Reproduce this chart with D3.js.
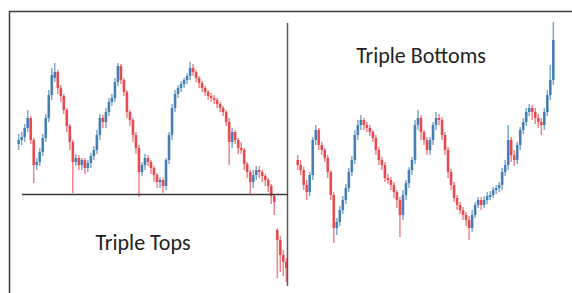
<!DOCTYPE html>
<html>
<head>
<meta charset="utf-8">
<script src="https://cdn.jsdelivr.net/npm/d3@7"></script>
<style>
  body { margin: 0; background: #fff; }
  svg { display: block; }
</style>
</head>
<body>
<div id="chart"></div>
<script>
// price levels (arbitrary units, higher = up)
var topsOpen = [156,160,163,172,182,160,135,138,148,162,182,205,222,228,212,204,190,174,158,138,142,135,140,132,137,144,150,165,182,178,188,198,202,218,234,220,208,188,180,165,152,128,135,142,138,132,125,118,120,114,140,165,192,206,212,216,220,224,232,228,222,217,212,208,204,202,200,196,192,188,178,158,168,160,152,150,136,128,118,125,130,128,124,120,114,104,70,60,45,38];
var topsClose = [160,163,172,182,160,135,138,148,162,182,205,225,228,212,204,190,174,158,138,142,135,140,132,137,144,150,165,182,178,188,198,202,218,234,220,208,188,180,165,152,128,135,142,138,132,125,118,120,114,140,165,192,206,212,216,220,224,232,228,222,217,212,208,204,202,200,196,192,188,178,158,168,160,152,150,136,128,118,125,130,128,124,120,114,104,98,60,45,38,32];
var topsHigh = [166,168,176,190,184,162,142,152,166,186,210,232,237,230,215,206,192,176,160,146,145,142,142,140,147,154,170,186,185,192,202,206,222,237,236,222,210,190,182,168,155,138,146,145,140,134,127,123,122,142,168,196,210,215,219,222,227,238,236,230,224,219,214,210,207,205,202,198,194,190,182,172,170,162,158,152,138,130,130,134,134,130,126,122,116,106,72,64,50,42];
var topsLow = [150,155,158,168,156,117,130,134,144,158,178,200,218,206,198,186,168,150,107,134,130,130,126,128,132,140,146,160,172,172,184,194,198,214,216,204,182,174,158,146,103,124,130,134,126,118,112,112,107,110,136,160,188,202,208,212,216,220,224,218,212,208,204,200,198,196,192,188,184,174,135,152,156,146,146,130,122,105,112,120,122,118,114,108,96,85,22,28,24,18];

var botOpen = [140,135,130,115,108,125,160,170,155,150,142,128,105,72,78,90,100,112,128,140,165,175,180,175,172,168,162,150,140,135,122,120,115,108,100,85,105,117,130,140,175,182,168,160,150,160,175,182,180,165,150,128,115,102,95,90,85,80,72,85,95,100,95,100,104,105,110,112,115,128,135,160,145,140,155,170,178,188,192,188,182,178,175,188,205,220];
var botClose = [135,130,115,108,125,160,170,155,150,142,128,105,72,78,90,100,112,128,140,165,175,180,175,172,168,162,150,140,135,122,120,115,108,100,85,105,117,130,140,175,182,168,160,150,160,175,182,180,165,150,128,115,102,95,90,85,80,72,85,95,100,95,100,104,105,110,112,115,128,135,160,145,140,155,170,178,188,192,188,182,178,175,188,205,220,260];
var botHigh = [145,140,133,120,128,163,175,172,158,152,145,130,108,82,94,104,116,132,144,170,180,185,182,178,175,170,165,153,143,138,126,123,118,110,103,110,120,133,143,180,190,185,170,163,163,178,188,186,183,168,153,131,118,105,98,93,88,84,90,98,103,103,104,108,109,113,115,118,132,140,175,163,150,158,173,182,192,196,195,192,186,182,192,210,235,278];
var botLow = [130,125,110,100,104,120,155,150,145,138,122,100,57,65,74,86,96,108,124,136,160,170,170,168,164,158,145,135,130,118,116,110,102,92,63,80,100,112,125,136,170,160,155,145,145,155,170,175,160,145,122,110,98,90,86,80,74,60,68,82,92,90,92,96,100,102,106,108,110,124,130,138,134,136,150,166,174,184,180,176,172,165,170,184,200,215];

var labels = ["Triple Tops", "Triple Bottoms"];

var width = 572, height = 293;
var red = "#e5333b", blue = "#2d6fab";

var svg = d3.select("#chart").append("svg")
    .attr("width", width)
    .attr("height", height);

var y = d3.scaleLinear().domain([0, 300]).range([300, 0]);

function makeBars(open, close, high, low) {
  return open.map(function(o, i) {
    return {i: i, open: o, close: close[i], high: high[i], low: low[i]};
  });
}

function drawPanel(data, x0, x1) {
  var x = d3.scaleBand()
      .domain(data.map(function(d) { return d.i; }))
      .range([x0, x1])
      .padding(0.12);

  var g = svg.append("g");
  var bar = g.selectAll("g.bar")
    .data(data)
    .enter().append("g")
      .attr("class", "bar");

  bar.append("line")
      .attr("x1", function(d) { return x(d.i) + x.bandwidth() / 2; })
      .attr("x2", function(d) { return x(d.i) + x.bandwidth() / 2; })
      .attr("y1", function(d) { return y(d.high); })
      .attr("y2", function(d) { return y(d.low); })
      .attr("stroke", function(d) { return d.close >= d.open ? blue : red; })
      .attr("stroke-opacity", 0.6)
      .attr("stroke-width", 1.5);

  bar.append("rect")
      .attr("x", function(d) { return x(d.i); })
      .attr("width", x.bandwidth())
      .attr("y", function(d) { return y(Math.max(d.open, d.close)); })
      .attr("height", function(d) { return Math.max(2, Math.abs(y(d.open) - y(d.close))); })
      .attr("fill", function(d) { return d.close >= d.open ? blue : red; })
      .attr("fill-opacity", 0.8);
}

drawPanel(makeBars(topsOpen, topsClose, topsHigh, topsLow), 17, 288);
drawPanel(makeBars(botOpen, botClose, botHigh, botLow), 296, 555);

// frame and dividers
svg.append("rect")
    .attr("x", 9.5).attr("y", 11.5)
    .attr("width", 700).attr("height", 400)
    .attr("fill", "none")
    .attr("stroke", "#3a3a3a")
    .attr("stroke-width", 1.5);

svg.append("line")
    .attr("x1", 287.5).attr("x2", 287.5)
    .attr("y1", 23).attr("y2", 286)
    .attr("stroke", "#5a5a5a")
    .attr("stroke-width", 1.5);

svg.append("line")
    .attr("x1", 22).attr("x2", 288)
    .attr("y1", 194.5).attr("y2", 194.5)
    .attr("stroke", "#3a3a3a")
    .attr("stroke-width", 1.5);

svg.append("text")
    .attr("x", 143).attr("y", 250)
    .attr("text-anchor", "middle")
    .style("font-family", "Carlito, Lato, sans-serif")
    .style("font-size", "22px")
    .attr("fill", "#222")
    .text(labels[0]);

svg.append("text")
    .attr("x", 421).attr("y", 63)
    .attr("text-anchor", "middle")
    .style("font-family", "Carlito, Lato, sans-serif")
    .style("font-size", "22px")
    .attr("fill", "#222")
    .text(labels[1]);
</script>
</body>
</html>
